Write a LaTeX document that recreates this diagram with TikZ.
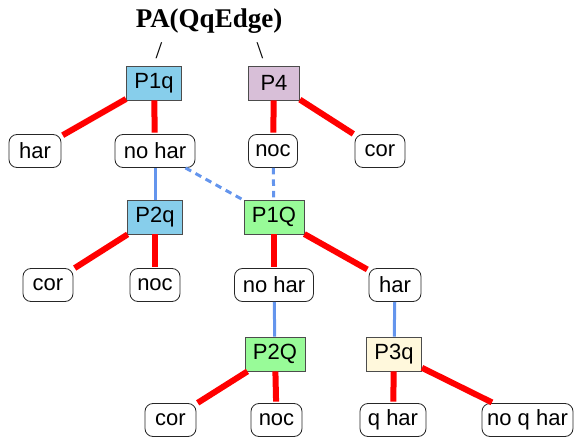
\documentclass[tikz,border=0pt]{standalone}
\usepackage{fontspec}
\setmainfont{Liberation Sans}
\newfontfamily\titlefont{Liberation Serif}
\definecolor{boxblue}{HTML}{87CEEB}
\definecolor{boxmauve}{HTML}{D8BFD8}
\definecolor{boxgreen}{HTML}{98FB98}
\definecolor{boxcream}{HTML}{FFF8DC}
\definecolor{linkblue}{HTML}{6495ED}
\tikzset{
  test/.style={draw=black!70, line width=0.8pt, inner xsep=8pt, minimum height=34pt,
    minimum width=51pt, font=\fontsize{22}{25}\selectfont},
  outcome/.style={draw=black!85, line width=0.8pt, rounded corners=8pt, inner xsep=5pt,
    minimum height=33pt, minimum width=#1, fill=white, font=\fontsize{22}{25}\selectfont},
  outcome/.default=50pt,
  branch/.style={draw=red, line width=6pt, shorten >=1.5pt},
  follow/.style={draw=linkblue, line width=3pt},
  maybe/.style={follow, dash pattern=on 6.5pt off 5pt},
}
\begin{document}
\begin{tikzpicture}[x=1pt,y=-1pt]
\useasboundingbox (0,0) rectangle (574,439);

% heading
\node[font=\titlefont\bfseries\fontsize{27}{31}\selectfont] (title) at (209,21) {PA(QqEdge)};
\node[font=\titlefont\fontsize{24}{28}\selectfont] (lslash) at (159,51) {/};
\node[font=\titlefont\fontsize{24}{28}\selectfont] (rslash) at (260,51) {\textbackslash};

% tests
\node[test, fill=boxblue]  (p1q) at (154,83)  {P1q};
\node[test, fill=boxmauve] (p4)  at (274,83)  {P4};
\node[test, fill=boxblue]  (p2q) at (155,217) {P2q};
\node[test, fill=boxgreen] (p1Q) at (274,217) {P1Q};
\node[test, fill=boxgreen] (p2Q) at (275,354) {P2Q};
\node[test, fill=boxcream] (p3q) at (394,354) {P3q};

% outcomes
\node[outcome=52pt] (har1)   at (35,151)  {har};
\node[outcome=80pt] (nohar1) at (155,151) {no har};
\node[outcome=49pt] (noc1)   at (273,151) {noc};
\node[outcome]      (cor1)   at (380,151) {cor};
\node[outcome]      (cor2)   at (48,285)  {cor};
\node[outcome]      (noc2)   at (155,285) {noc};
\node[outcome=79pt] (nohar2) at (274,285) {no har};
\node[outcome=52pt] (har2)   at (395,285) {har};
\node[outcome=51pt] (cor3)   at (170.5,420) {cor};
\node[outcome=51pt] (noc3)   at (276.5,420) {noc};
\node[outcome=66pt] (qhar)   at (393,420) {q har};
\node[outcome=91pt] (noqhar) at (527.5,420) {no q har};

% branches
\draw[branch] (p1q) -- (har1);
\draw[branch] (p1q) -- (nohar1);
\draw[branch] (p4) -- (noc1);
\draw[branch] (p4) -- (cor1);
\draw[branch] (p2q) -- (cor2);
\draw[branch] (p2q) -- (noc2);
\draw[branch] (p1Q) -- (nohar2);
\draw[branch] (p1Q) -- (har2);
\draw[branch] (p2Q) -- (cor3);
\draw[branch] (p2Q) -- (noc3);
\draw[branch] (p3q) -- (qhar);
\draw[branch] (p3q) -- (noqhar);

% continuations
\draw[follow] (nohar1) -- (p2q);
\draw[follow] (nohar2) -- (p2Q);
\draw[follow] (har2) -- (p3q);
\draw[maybe] (nohar1) -- (p1Q);
\draw[maybe] (noc1) -- (p1Q);
\end{tikzpicture}
\end{document}
